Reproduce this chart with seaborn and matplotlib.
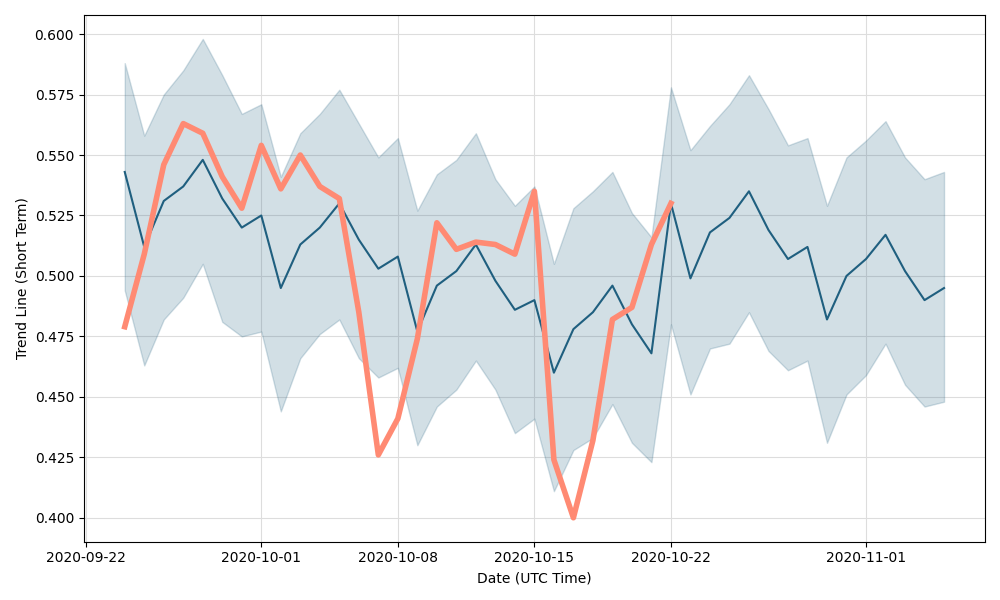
import pandas as pd
import seaborn as sns
import matplotlib.pyplot as plt

# Daily values
dates = pd.date_range("2020-09-24", "2020-11-05", freq="D")

trend_mean = [0.543, 0.512, 0.531, 0.537, 0.548, 0.532, 0.520, 0.525, 0.495, 0.513,
              0.520, 0.530, 0.515, 0.503, 0.508, 0.477, 0.496, 0.502, 0.513, 0.498,
              0.486, 0.490, 0.460, 0.478, 0.485, 0.496, 0.480, 0.468, 0.530, 0.499,
              0.518, 0.524, 0.535, 0.519, 0.507, 0.512, 0.482, 0.500, 0.507, 0.517,
              0.502, 0.490, 0.495]
trend_upper = [0.588, 0.558, 0.575, 0.585, 0.598, 0.583, 0.567, 0.571, 0.541, 0.559,
               0.567, 0.577, 0.563, 0.549, 0.557, 0.527, 0.542, 0.548, 0.559, 0.540,
               0.529, 0.537, 0.505, 0.528, 0.535, 0.543, 0.526, 0.516, 0.578, 0.552,
               0.562, 0.571, 0.583, 0.569, 0.554, 0.557, 0.529, 0.549, 0.556, 0.564,
               0.549, 0.540, 0.543]
trend_lower = [0.494, 0.463, 0.482, 0.491, 0.505, 0.481, 0.475, 0.477, 0.444, 0.466,
               0.476, 0.482, 0.466, 0.458, 0.462, 0.430, 0.446, 0.453, 0.465, 0.453,
               0.435, 0.441, 0.411, 0.428, 0.433, 0.447, 0.431, 0.423, 0.480, 0.451,
               0.470, 0.472, 0.485, 0.469, 0.461, 0.465, 0.431, 0.451, 0.459, 0.472,
               0.455, 0.446, 0.448]

# Short term line only covers the first part of the period
short_dates = dates[:29]
short_term = [0.479, 0.509, 0.546, 0.563, 0.559, 0.541, 0.528, 0.554, 0.536, 0.550,
              0.537, 0.532, 0.485, 0.426, 0.441, 0.474, 0.522, 0.511, 0.514, 0.513,
              0.509, 0.535, 0.424, 0.400, 0.432, 0.482, 0.487, 0.513, 0.530]

blue = "#1f5f7f"
orange = "#ff8a73"

fig, ax = plt.subplots(figsize=(10, 6))

ax.fill_between(dates, trend_lower, trend_upper, color=blue, alpha=0.2)
sns.lineplot(x=dates, y=trend_mean, color=blue, linewidth=1.5, ax=ax)
sns.lineplot(x=short_dates, y=short_term, color=orange, linewidth=4, ax=ax)

ax.grid(True, color="#dddddd", linewidth=0.8)
ax.set_axisbelow(True)
ax.set_xlabel("Date (UTC Time)")
ax.set_ylabel("Trend Line (Short Term)")

plt.tight_layout()
plt.savefig("out.png", dpi=100)
